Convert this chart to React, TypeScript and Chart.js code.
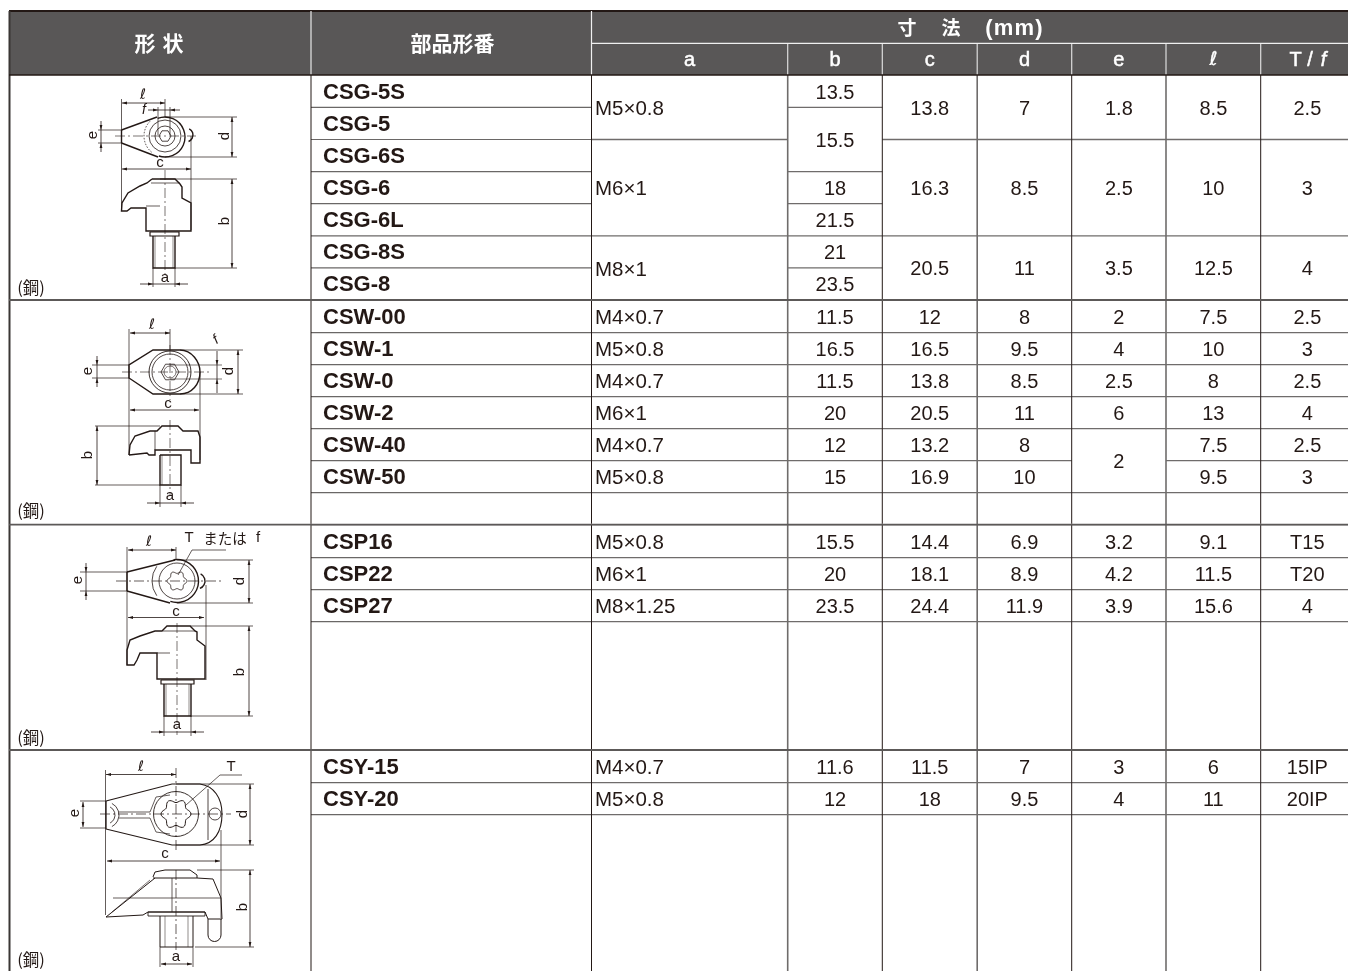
import React, { useEffect, useRef } from "react";
import { Chart, registerables } from "chart.js";

Chart.register(...registerables);

const partNames = ["CSG-5S","CSG-5","CSG-6S","CSG-6","CSG-6L","CSG-8S","CSG-8","CSW-00","CSW-1","CSW-0","CSW-2","CSW-40","CSW-50","","CSP16","CSP22","CSP27","","CSY-15","CSY-20",""];
// each cell: [text, rows spanned]
const colA: [string, number][] = [["M5×0.8",2],["M6×1",3],["M8×1",2],["M4×0.7",1],["M5×0.8",1],["M4×0.7",1],["M6×1",1],["M4×0.7",1],["M5×0.8",1],["",1],["M5×0.8",1],["M6×1",1],["M8×1.25",1],["",1],["M4×0.7",1],["M5×0.8",1],["",1]];
const colB: [string, number][] = [["13.5",1],["15.5",2],["18",1],["21.5",1],["21",1],["23.5",1],["11.5",1],["16.5",1],["11.5",1],["20",1],["12",1],["15",1],["",1],["15.5",1],["20",1],["23.5",1],["",1],["11.6",1],["12",1],["",1]];
const colC: [string, number][] = [["13.8",2],["16.3",3],["20.5",2],["12",1],["16.5",1],["13.8",1],["20.5",1],["13.2",1],["16.9",1],["",1],["14.4",1],["18.1",1],["24.4",1],["",1],["11.5",1],["18",1],["",1]];
const colD: [string, number][] = [["7",2],["8.5",3],["11",2],["8",1],["9.5",1],["8.5",1],["11",1],["8",1],["10",1],["",1],["6.9",1],["8.9",1],["11.9",1],["",1],["7",1],["9.5",1],["",1]];
const colE: [string, number][] = [["1.8",2],["2.5",3],["3.5",2],["2",1],["4",1],["2.5",1],["6",1],["2",2],["",1],["3.2",1],["4.2",1],["3.9",1],["",1],["3",1],["4",1],["",1]];
const colL: [string, number][] = [["8.5",2],["10",3],["12.5",2],["7.5",1],["10",1],["8",1],["13",1],["7.5",1],["9.5",1],["",1],["9.1",1],["11.5",1],["15.6",1],["",1],["6",1],["11",1],["",1]];
const colT: [string, number][] = [["2.5",2],["3",3],["4",2],["2.5",1],["3",1],["2.5",1],["4",1],["2.5",1],["3",1],["",1],["T15",1],["T20",1],["4",1],["",1],["15IP",1],["20IP",1],["",1]];
const dimHeaders = ["a","b","c","d","e","ℓ","T / f"];
const groupEndRows = [7, 14, 18];
const materialLabel = "(鋼)";

// table frame in scale units
const colEdges = [9.5,311,591.5,787.7,882.3,977.2,1071.7,1166,1260.7,1354];
const rowEdges = [75,107.3,139.5,171.7,203.7,235.8,267.8,300,332.7,364.7,396.7,428.7,460.7,492.7,524.7,557.7,589.7,621.7,750,782.7,814.7,975];

const INK = "#231815";
const HEAD = "#595757";
const SANS = '"Liberation Sans", Arial, sans-serif';
const CJK = '"Noto Sans CJK JP", sans-serif';

function drawTable(chart: any) {
  const { ctx, scales } = chart;
  const X = (v: number) => scales.x.getPixelForValue(v);
  const Y = (v: number) => scales.y.getPixelForValue(v);
  const rule = (x1: number, y1: number, x2: number, y2: number, w: number, c: string) => {
    ctx.strokeStyle = c; ctx.lineWidth = w; ctx.beginPath();
    ctx.moveTo(X(x1), Y(y1)); ctx.lineTo(X(x2), Y(y2)); ctx.stroke();
  };
  const text = (s: string, x: number, y: number, font: string, c: string, align: CanvasTextAlign = "center", rot = 0, spacing = 0, embolden = 0) => {
    ctx.save(); ctx.translate(X(x), Y(y)); if (rot) ctx.rotate(rot);
    ctx.font = font; ctx.fillStyle = c; ctx.textAlign = align; ctx.textBaseline = "middle";
    ctx.letterSpacing = `${spacing}px`;
    ctx.fillText(s, 0, 0);
    if (embolden) { ctx.strokeStyle = c; ctx.lineWidth = embolden; ctx.strokeText(s, 0, 0); }
    ctx.restore();
  };
  ctx.save();
  ctx.fillStyle = "#ffffff"; ctx.fillRect(0, 0, chart.width, chart.height);
  // header
  ctx.fillStyle = HEAD; ctx.fillRect(X(9), Y(11), X(1348) - X(9), Y(75) - Y(11));
  rule(9, 11, 1348, 11, 2, INK);
  rule(colEdges[1], 11, colEdges[1], 75, 1.2, "#e8e8e8");
  rule(colEdges[2], 11, colEdges[2], 75, 1.2, "#f0f0f0");
  rule(colEdges[2], 43.3, 1348, 43.3, 1.2, "#f0f0f0");
  for (let i = 3; i < 9; i++) rule(colEdges[i], 44, colEdges[i], 75, 1.2, "#dddddd");
  text("形", 145, 43, `bold 21px ${CJK}`, "#fff");
  text("状", 173, 43, `bold 21px ${CJK}`, "#fff");
  text("部品形番", 452.5, 43, `bold 21px ${CJK}`, "#fff");
  text("寸", 907, 28, `bold 19px ${CJK}`, "#fff");
  text("法", 951, 28, `bold 19px ${CJK}`, "#fff");
  text("(mm)", 1014.5, 29, `bold 22px ${SANS}`, "#fff", "center", 0, 1.2);
  dimHeaders.forEach((h, i) => {
    const cx = (colEdges[i + 2] + colEdges[i + 3]) / 2;
    if (h === "T / f") {
      text("T", 1295.5, 60, `20px ${SANS}`, "#fff", "center", 0, 0, 0.5);
      text("/", 1310, 60, `20px ${SANS}`, "#fff", "center", 0, 0, 0.5);
      text("f", 1323.5, 60, `italic 20px ${SANS}`, "#fff", "center", 0, 0, 0.5);
    } else if (h === "ℓ") {
      text(h, cx, 60, `italic 19px "DejaVu Sans", ${SANS}`, "#fff", "center", 0, 0, 0.4);
    } else {
      text(h, cx, 60, `20px ${SANS}`, "#fff", "center", 0, 0, 0.5);
    }
  });
  // part number column
  partNames.forEach((p, r) => {
    if (r + 1 < rowEdges.length - 1) rule(colEdges[1], rowEdges[r + 1], colEdges[2], rowEdges[r + 1], 1.2, "#6a6766");
    if (p) text(p, 323, (rowEdges[r] + rowEdges[r + 1]) / 2 + 1.5, `bold 22px ${SANS}`, INK, "left");
  });
  // dimension columns
  [colA, colB, colC, colD, colE, colL, colT].forEach((col, c) => {
    let r = 0;
    col.forEach(([t, span]) => {
      const y0 = rowEdges[r], y1 = rowEdges[r + span];
      r += span;
      if (r < rowEdges.length - 1) rule(colEdges[c + 2], y1, Math.min(colEdges[c + 3], 1348), y1, 1.3, "#6f6c6b");
      if (!t) return;
      const my = (y0 + y1) / 2 + 2;
      if (c === 0) text(t, 595, my, `20.5px ${SANS}`, INK, "left");
      else text(t, (colEdges[c + 2] + colEdges[c + 3]) / 2, my, `20px ${SANS}`, INK);
    });
  });
  // vertical rules
  rule(colEdges[0], 11, colEdges[0], 975, 2, "#3a3634");
  [1, 2, 4, 6, 8].forEach((i) => rule(colEdges[i], 75, colEdges[i], 975, 1, "#231815"));
  [3, 5, 7].forEach((i) => rule(colEdges[i], 75, colEdges[i], 975, 1.6, "#6f6c6b"));
  // heavy rules
  rule(9, 75, 1348, 75, 1.6, INK);
  groupEndRows.forEach((r) => rule(9, rowEdges[r], 1348, rowEdges[r], 1.8, "#5c5958"));

  drawFigures(X, Y, ctx, text);
  ctx.restore();
}

function drawFigures(X: (v: number) => number, Y: (v: number) => number, ctx: CanvasRenderingContext2D, text: any) {
  const L = (pts: number[], w = 0.8, c = INK, dash: number[] = []) => {
    ctx.strokeStyle = c; ctx.lineWidth = w; ctx.setLineDash(dash); ctx.beginPath();
    for (let i = 0; i < pts.length; i += 2) {
      if (i === 0) ctx.moveTo(X(pts[0]), Y(pts[1])); else ctx.lineTo(X(pts[i]), Y(pts[i + 1]));
    }
    ctx.stroke(); ctx.setLineDash([]);
  };
  const O = (cx: number, cy: number, r: number, w = 0.8, a0 = 0, a1 = Math.PI * 2, dash: number[] = []) => {
    ctx.strokeStyle = INK; ctx.lineWidth = w; ctx.setLineDash(dash); ctx.beginPath();
    ctx.arc(X(cx), Y(cy), r, a0, a1); ctx.stroke(); ctx.setLineDash([]);
  };
  const head = (x: number, y: number, dx: number, dy: number) => {
    const s = 5, t = 1.4;
    ctx.fillStyle = INK; ctx.beginPath();
    ctx.moveTo(X(x), Y(y));
    ctx.lineTo(X(x - dx * s - dy * t), Y(y - dy * s - dx * t));
    ctx.lineTo(X(x - dx * s + dy * t), Y(y - dy * s + dx * t));
    ctx.fill();
  };
  const H = (x1: number, x2: number, y: number) => { L([x1, y, x2, y], 0.8); head(x1, y, -1, 0); head(x2, y, 1, 0); };
  const V = (x: number, y1: number, y2: number) => { L([x, y1, x, y2], 0.8); head(x, y1, 0, -1); head(x, y2, 0, 1); };
  const OH = (x1: number, x2: number, y: number, ext = 13) => { L([x1 - ext, y, x2 + ext, y], 0.8); head(x1, y, 1, 0); head(x2, y, -1, 0); };
  const OV = (x: number, y1: number, y2: number, ext = 10) => { L([x, y1 - ext, x, y2 + ext], 0.8); head(x, y1, 0, 1); head(x, y2, 0, -1); };
  const lab = `15px ${SANS}`;
  const ell = `italic 14.5px "DejaVu Sans", ${SANS}`;
  const up = -Math.PI / 2;
  const CL = [10, 3, 2, 3];
  const torx = (cx: number, cy: number, r: number, w = 0.8) => {
    ctx.strokeStyle = INK; ctx.lineWidth = w; ctx.beginPath();
    for (let i = 0; i <= 72; i++) {
      const a = (i / 72) * Math.PI * 2;
      const rr = r * (0.88 + 0.12 * Math.cos(6 * a));
      const px = X(cx) + rr * Math.cos(a), py = Y(cy) + rr * Math.sin(a);
      if (i === 0) ctx.moveTo(px, py); else ctx.lineTo(px, py);
    }
    ctx.stroke();
  };
  const hexa = (cx: number, cy: number, r: number) => {
    const p: number[] = [];
    for (let i = 0; i <= 6; i++) p.push(cx + r * Math.cos((i * Math.PI) / 3), cy + r * Math.sin((i * Math.PI) / 3));
    L(p, 0.8);
  };

  // --- CSG ---
  L([121.5, 130, 157, 117], 1.4); L([121.5, 143, 158, 157], 1.4); L([121.5, 130, 121.5, 143], 1.4);
  O(165, 137, 20, 1.4, -Math.PI * 0.62, Math.PI * 0.6);
  O(165, 136, 16, 0.8); O(165, 136, 10, 0.8); hexa(165, 136, 6);
  O(186, 135, 7, 1.4, -1.1, 1.2);
  O(165, 136, 21, 0.8, Math.PI * 0.72, Math.PI * 1.25, [1.5, 1.5]);
  L([115, 136, 196, 136], 0.6, INK, CL);
  L([121.5, 99, 121.5, 210], 0.7); L([165, 99, 165, 117], 0.7); H(122, 165, 103);
  text("ℓ", 143, 95, ell, INK);
  text("f", 144, 110, `italic 14px ${SANS}`, INK);
  L([158, 107, 158, 135], 0.7); L([170, 107, 170, 135], 0.7); OH(158, 170, 110, 10);
  OV(101, 130, 143, 9); L([98, 130, 122, 130], 0.7); L([98, 143, 122, 143], 0.7);
  text("e", 93, 135, lab, INK, "center", up);
  L([165, 117, 237, 117], 0.7); L([165, 157, 237, 157], 0.7); V(232, 117, 157);
  text("d", 225, 136, lab, INK, "center", up);
  L([191, 136, 191, 230], 0.7); H(122, 191, 169); text("c", 160, 163, lab, INK);
  L([152, 179, 175, 179, 180, 184, 182, 187, 182, 198, 191, 203, 191, 231, 146, 231, 146, 208, 131, 208, 127, 211, 121.5, 211, 122, 203, 128, 193, 140, 186, 147, 183, 152, 179], 1.4);
  L([151, 183, 180, 183], 0.7); L([146, 206, 160, 206], 0.7);
  L([150, 232, 179, 232, 179, 236, 150, 236, 150, 232], 1.2);
  L([153, 236, 153, 268, 175, 268, 175, 236], 1.4); L([155, 236, 155, 268], 0.5); L([173, 236, 173, 268], 0.5);
  L([165, 170, 165, 275], 0.6, INK, CL);
  L([160, 179, 237, 179], 0.7); L([175, 268, 237, 268], 0.7); V(232, 179, 268);
  text("b", 225, 221, lab, INK, "center", up);
  L([153, 268, 153, 287], 0.7); L([175, 268, 175, 287], 0.7); OH(153, 175, 284); text("a", 165, 278, lab, INK);
  text(materialLabel, 31, 288, `16.5px ${CJK}`, INK);

  // --- CSW ---
  L([180, 350, 153, 350, 129, 365, 129, 378, 153, 394, 180, 394], 1.4);
  ctx.strokeStyle = INK; ctx.lineWidth = 1.4; ctx.beginPath();
  ctx.moveTo(X(180), Y(350)); ctx.bezierCurveTo(X(192), Y(350), X(200), Y(362), X(200), Y(372));
  ctx.bezierCurveTo(X(200), Y(384), X(192), Y(394), X(180), Y(394)); ctx.stroke();
  O(170, 372, 21, 0.9); O(170, 372, 18, 0.8); hexa(170, 372, 9); O(170, 372, 6, 0.6);
  L([122, 372, 210, 372], 0.6, INK, CL); L([170, 345, 170, 400], 0.6, INK, CL);
  L([129, 329, 129, 455], 0.7); L([170, 329, 170, 350], 0.7); H(130, 170, 333); text("ℓ", 152, 325, ell, INK);
  text("f", 216, 340, `italic 14px ${SANS}`, INK, "center", -0.6);
  L([170, 365, 222, 365], 0.6); L([170, 379, 222, 379], 0.6); OV(217, 365, 379, 14);
  L([180, 350, 243, 350], 0.7); L([180, 394, 243, 394], 0.7); V(238, 350, 394);
  text("d", 229, 371, lab, INK, "center", up);
  OV(97, 365, 378, 9); L([92, 365, 129, 365], 0.7); L([92, 378, 129, 378], 0.7);
  text("e", 88, 371, lab, INK, "center", up);
  L([200, 372, 200, 460], 0.7); H(130, 199, 410); text("c", 168, 404, lab, INK);
  L([129, 455, 130, 445, 135, 436, 150, 431, 157, 431, 162, 426, 178, 426, 183, 431, 198, 431, 200, 437, 200, 463, 191, 463, 191, 450, 155, 450, 155, 455, 149, 455, 147, 453, 129, 455], 1.4);
  L([155, 431, 155, 450], 0.7);
  L([160, 455, 160, 485, 181, 485, 181, 455, 160, 455], 1.4); L([162, 455, 162, 485], 0.5);
  L([170, 420, 170, 495], 0.6, INK, CL);
  L([95, 426, 160, 426], 0.7); L([95, 485, 160, 485], 0.7); V(97, 426, 485);
  text("b", 88, 455, lab, INK, "center", up);
  L([160, 485, 160, 507], 0.7); L([181, 485, 181, 507], 0.7); OH(160, 181, 503); text("a", 170, 496, lab, INK);
  text(materialLabel, 31, 511, `16.5px ${CJK}`, INK);

  // --- CSP ---
  L([127, 572, 175, 560], 1.4); L([127, 591, 170, 603], 1.4); L([127, 572, 127, 591], 1.4);
  O(177, 581, 21.5, 1.4, -Math.PI * 0.55, Math.PI * 0.6);
  O(177, 581, 18, 0.8); torx(177, 581, 10); O(197, 581, 8, 1.4, -1.1, 1.2);
  O(177, 581, 25, 0.8, Math.PI * 0.8, Math.PI * 1.2);
  L([116, 581, 222, 581], 0.7, INK, CL);
  L([127, 547, 127, 665], 0.7); L([176, 547, 176, 560], 0.7); H(128, 176, 550); text("ℓ", 149, 542, ell, INK);
  text("T", 189, 538, `15px ${SANS}`, INK);
  text("または", 225, 538, `14.5px ${CJK}`, INK);
  text("f", 258, 538, `15px ${SANS}`, INK);
  L([178, 575, 192, 550, 226, 550], 0.7);
  OV(86, 572, 591, 9); L([80, 572, 127, 572], 0.7); L([80, 591, 127, 591], 0.7);
  text("e", 78, 580, lab, INK, "center", up);
  L([177, 560, 253, 560], 0.7); L([177, 603, 253, 603], 0.7); V(249, 560, 603);
  text("d", 240, 581, lab, INK, "center", up);
  L([206, 585, 206, 680], 0.7); H(128, 204, 617.5); text("c", 176, 612, lab, INK);
  L([162, 631, 167, 626, 190, 626, 195, 631, 197, 632, 197, 640, 205, 646, 205, 679, 157, 679, 157, 653, 140, 653, 137, 660, 134, 665, 127, 665, 127, 650, 130, 640, 140, 636, 155, 631, 162, 631], 1.4);
  L([162, 631, 195, 631], 0.7); L([157, 653, 170, 653], 0.7);
  L([161, 680, 194, 680, 194, 684, 161, 684, 161, 680], 1.2);
  L([164, 684, 164, 716, 191, 716, 191, 684], 1.4); L([166, 684, 166, 716], 0.5); L([189, 684, 189, 716], 0.5);
  L([177, 623, 177, 735], 0.6, INK, CL);
  L([190, 626, 253, 626], 0.7); L([190, 716, 253, 716], 0.7); V(249, 626, 716);
  text("b", 240, 672, lab, INK, "center", up);
  L([164, 716, 164, 736], 0.7); L([191, 716, 191, 736], 0.7); OH(164, 191, 732); text("a", 177, 725, lab, INK);
  text(materialLabel, 31, 738, `16.5px ${CJK}`, INK);

  // --- CSY ---
  L([106, 801, 172, 784, 200, 784], 1.1); L([106, 829, 172, 845, 200, 845], 1.1); L([106, 801, 106, 829], 1.3);
  ctx.strokeStyle = INK; ctx.lineWidth = 1.1; ctx.beginPath();
  ctx.moveTo(X(200), Y(784)); ctx.bezierCurveTo(X(214), Y(786), X(222), Y(798), X(222), Y(814));
  ctx.bezierCurveTo(X(222), Y(832), X(214), Y(844), X(200), Y(845)); ctx.stroke();
  O(176, 814, 22.5, 0.9); torx(176, 814, 15, 1); O(215, 814, 6, 0.8);
  L([208, 789, 208, 840], 0.8);
  O(106, 815, 13, 0.8, -1.1, 1.1); O(106, 815, 9, 0.8, -1.1, 1.1);
  L([119, 812, 150, 812, 156, 797, 170, 795], 0.7); L([119, 818, 150, 818, 156, 832, 170, 834], 0.7);
  L([100, 814, 231, 814], 0.7, INK, CL); L([176, 768, 176, 850], 0.7, INK, CL);
  L([105.5, 770, 105.5, 915], 0.7); H(106, 176, 774.5); text("ℓ", 141, 767, ell, INK);
  text("T", 231, 767, lab, INK);
  L([186, 805, 220, 775, 242, 775], 0.7);
  V(83, 802, 827); L([80, 801, 106, 801], 0.7); L([80, 828, 106, 828], 0.7);
  text("e", 75, 813, lab, INK, "center", up);
  L([176, 784, 254, 784], 0.7); L([176, 845, 254, 845], 0.7); V(250, 784, 845);
  text("d", 243, 814, lab, INK, "center", up);
  L([221, 830, 221, 918], 0.7); H(107, 220, 861); text("c", 165, 854, lab, INK);
  L([153, 877, 155, 872, 165, 870, 190, 870, 197, 875, 197, 878, 153, 878], 1);
  L([155, 878, 106, 917, 143, 915, 148, 912, 205, 912, 208, 919, 222, 919, 221, 898, 213, 879, 197, 878], 1);
  L([113, 898, 221, 898], 0.7); L([112, 912, 150, 880], 0.6);
  L([148, 912, 205, 912, 205, 916, 148, 916, 148, 912], 0.9);
  L([160, 916, 160, 947, 193, 947, 193, 916], 1); L([165, 916, 165, 947], 0.5); L([188, 916, 188, 947], 0.5);
  L([208, 919, 208, 935], 1); L([221, 919, 221, 935], 1); O(214.5, 935, 6.5, 1, 0, Math.PI);
  L([172, 878, 172, 912], 0.7);
  L([176, 870, 176, 950], 0.7, INK, CL);
  L([197, 870, 254, 870], 0.7); L([195, 947, 254, 947], 0.7); V(250, 870, 947);
  text("b", 243, 907, lab, INK, "center", up);
  L([160, 947, 160, 967], 0.7); L([193, 947, 193, 967], 0.7); H(161, 192, 964); text("a", 176, 957, lab, INK);
  text(materialLabel, 31, 960, `16.5px ${CJK}`, INK);
}

const tablePlugin = { id: "specTable", afterDraw: drawTable };

export default function App() {
  const ref = useRef<HTMLCanvasElement | null>(null);
  useEffect(() => {
    const chart = new Chart(ref.current as HTMLCanvasElement, {
      type: "scatter",
      data: { labels: partNames, datasets: [{ label: "rows", data: [], pointRadius: 0 }] },
      options: {
        animation: false,
        responsive: false,
        layout: { padding: 0 },
        plugins: { legend: { display: false }, tooltip: { enabled: false }, title: { display: false } },
        scales: {
          x: { type: "linear", min: 0, max: 1348, display: false },
          y: { type: "linear", min: 0, max: 971, reverse: true, display: false },
        },
      },
      plugins: [tablePlugin],
    } as any);
    return () => chart.destroy();
  }, []);
  return (
    <div style={{ position: "fixed", left: 0, top: 0, width: 1348, height: 971, background: "#fff", overflow: "hidden" }}>
      <canvas ref={ref} width={1348} height={971} style={{ display: "block" }} />
    </div>
  );
}
